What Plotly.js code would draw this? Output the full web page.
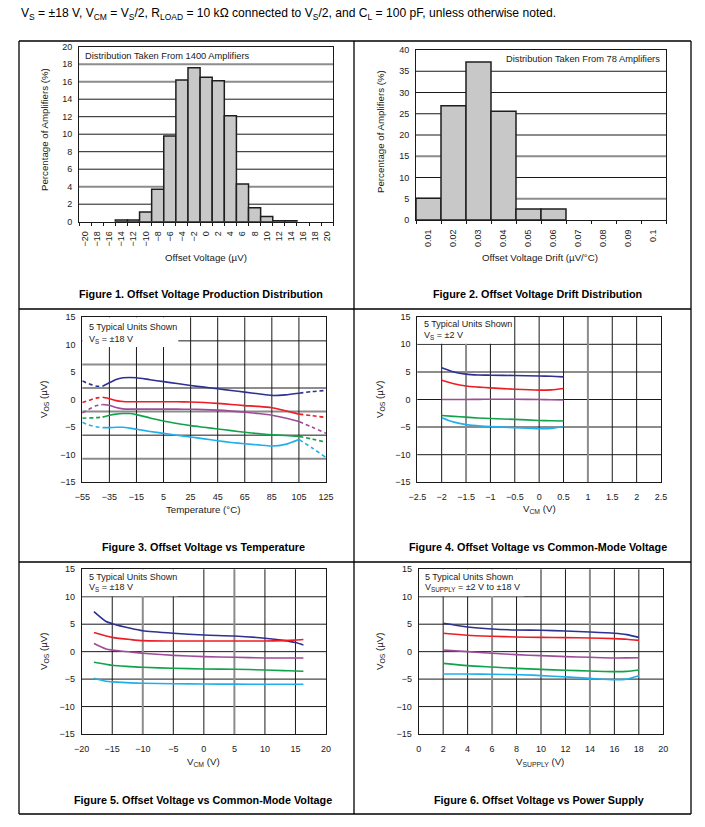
<!DOCTYPE html>
<html><head><meta charset="utf-8">
<script src="https://cdn.plot.ly/plotly-3.0.1.min.js"></script>
<style>html,body{margin:0;padding:0;background:#fff}#chart{width:705px;height:827px}</style>
</head><body><div id="chart"></div>
<script>
// ---------------- DATA ----------------
// Figure 1: offset voltage production distribution (bins of 2 uV, given by left edge)
const offsetBinStarts = [-14,-12,-10,-8,-6,-4,-2,0,2,4,6,8,10,12,14];
const offsetPercent   = [0.2,0.2,1.1,3.7,9.8,16.2,17.6,16.5,16.1,12.1,4.3,1.6,0.6,0.1,0.1];
const offsetTicks     = [-20,-18,-16,-14,-12,-10,-8,-6,-4,-2,0,2,4,6,8,10,12,14,16,18,20];

// Figure 2: offset voltage drift distribution (bins of 0.01 uV/C, left edge)
const driftBinStarts = [0.01,0.02,0.03,0.04,0.05,0.06];
const driftPercent   = [5.13,26.9,37.2,25.6,2.56,2.56];
const driftTicks     = [0.01,0.02,0.03,0.04,0.05,0.06,0.07,0.08,0.09,0.1];
const driftTickText  = ['0.01','0.02','0.03','0.04','0.05','0.06','0.07','0.08','0.09','0.1'];

// Figure 3: Vos vs temperature (5 units)
const temps      = [-55,-50,-45,-40,-35,-30,-25,-20,-15,-5,5,15,25,35,45,55,65,75,85,95,105,115,125];
const tempNavy   = [3.4,2.9,2.5,2.45,3.1,3.7,4.0,4.05,4.0,3.65,3.3,2.95,2.6,2.3,2.0,1.7,1.4,1.1,0.8,0.9,1.2,1.5,1.7];
const tempRed    = [-0.5,-0.1,0.3,0.45,0.2,-0.15,-0.3,-0.35,-0.35,-0.35,-0.35,-0.35,-0.4,-0.5,-0.65,-0.85,-1.05,-1.2,-1.45,-2.0,-2.6,-2.9,-3.2];
const tempPurple = [-2.4,-1.7,-1.1,-0.85,-1.0,-1.4,-1.65,-1.7,-1.7,-1.7,-1.7,-1.7,-1.72,-1.78,-1.88,-2.05,-2.27,-2.5,-2.8,-3.3,-3.95,-5.0,-6.1];
const tempGreen  = [-3.35,-3.3,-3.25,-3.15,-2.8,-2.6,-2.5,-2.5,-2.7,-3.3,-3.85,-4.3,-4.7,-5.0,-5.3,-5.6,-5.9,-6.15,-6.35,-6.5,-6.65,-7.15,-7.7];
const tempCyan   = [-4.1,-4.6,-4.9,-5.05,-5.05,-5.0,-5.0,-5.15,-5.35,-5.75,-6.1,-6.45,-6.75,-7.1,-7.45,-7.75,-8.0,-8.2,-8.4,-8.1,-7.2,-8.8,-10.5];
const tempSolidFrom = -40, tempSolidTo = 105;

// Figure 4: Vos vs Vcm, Vs = +-2 V
const vcm2       = [-2,-1.75,-1.5,-1.25,-1,-0.5,0,0.25,0.5];
const vcm2Navy   = [5.77,5.0,4.6,4.45,4.4,4.35,4.25,4.2,4.1];
const vcm2Red    = [3.47,2.85,2.45,2.25,2.1,1.85,1.7,1.75,2.0];
const vcm2Purple = [0,0,0,0.03,0.05,0.05,0,-0.05,-0.1];
const vcm2Green  = [-2.9,-3.05,-3.2,-3.35,-3.45,-3.6,-3.8,-3.85,-3.9];
const vcm2Cyan   = [-3.3,-4.1,-4.55,-4.75,-4.9,-5.1,-5.3,-5.25,-4.9];

// Figure 5: Vos vs Vcm, Vs = +-18 V
const vcm18       = [-18,-16,-15,-12,-10,-5,0,5,10,13,15,16.3];
const vcm18Navy   = [7.3,5.5,5.1,4.25,3.8,3.34,3.03,2.85,2.45,2.05,1.65,1.2];
const vcm18Red    = [3.5,2.85,2.6,2.2,2.0,1.95,1.95,1.95,1.95,2.0,2.1,2.2];
const vcm18Purple = [1.5,0.5,0.3,-0.06,-0.3,-0.67,-0.9,-1.03,-1.15,-1.15,-1.15,-1.15];
const vcm18Green  = [-1.94,-2.3,-2.49,-2.72,-2.85,-3.03,-3.15,-3.2,-3.34,-3.45,-3.52,-3.58];
const vcm18Cyan   = [-4.85,-5.4,-5.5,-5.68,-5.76,-5.85,-5.9,-5.92,-5.95,-5.95,-5.95,-5.95];

// Figure 6: Vos vs power supply
const vsup       = [2,4,6,8,10,12,14,16,17,18];
const vsupNavy   = [5.16,4.49,4.13,3.95,3.9,3.76,3.58,3.34,3.1,2.6];
const vsupRed    = [3.34,2.98,2.8,2.67,2.6,2.55,2.5,2.37,2.27,2.06];
const vsupPurple = [0.3,0,-0.3,-0.55,-0.73,-0.9,-1.03,-1.15,-1.14,-1.1];
const vsupGreen  = [-2.13,-2.55,-2.8,-3.04,-3.22,-3.4,-3.52,-3.64,-3.6,-3.34];
const vsupCyan   = [-4.07,-4.07,-4.13,-4.19,-4.37,-4.6,-4.86,-5.1,-5.0,-4.37];

// ---------------- STYLE / LAYOUT ----------------
const W = 705, H = 827;
const FONT = 'Liberation Sans, Arial, sans-serif';
const TXT = '#1a1a1a';
const BLACK = '#1a1a1a', GRAY = '#8c8c8c';
const COLORS = {navy:'#2e3192', red:'#ee1c25', purple:'#9e4b98', green:'#11a34b', cyan:'#1fb0ec'};
const px = x => x / W;
const py = y => 1 - y / H;

// plot rectangles in pixels [left, top, right, bottom]
const rects = [
  [79, 46.7, 333.3, 221.7],
  [416, 50, 666, 220],
  [82.3, 317.3, 326, 482.3],
  [417.3, 316.7, 661, 482.3],
  [81.7, 569.3, 326, 734],
  [418.7, 569.3, 663.3, 734]
];
const dom = r => ({x:[px(r[0]), px(r[2])], y:[py(r[3]), py(r[1])]});

const traces = [];
function barTrace(starts, vals, width, n) {
  traces.push({
    type:'bar', x: starts.map(s => s + width/2), y: vals, width: starts.map(() => width),
    marker:{color:'#c8c8c8', line:{color:'#1e1e1e', width:1.5}},
    xaxis:'x'+(n===1?'':n), yaxis:'y'+(n===1?'':n), hoverinfo:'skip'
  });
}
barTrace(offsetBinStarts, offsetPercent, 2, 1);
barTrace(driftBinStarts, driftPercent, 0.01, 2);

function lineTrace(xs, ys, color, n, dash) {
  traces.push({
    type:'scatter', mode:'lines', x:xs, y:ys,
    line:{color:color, width:1.6, shape:'spline', smoothing:0.7, dash: dash || 'solid'},
    xaxis:'x'+n, yaxis:'y'+n, hoverinfo:'skip'
  });
}
// Figure 3 with dashed ends
[[tempNavy,'navy'],[tempRed,'red'],[tempPurple,'purple'],[tempGreen,'green'],[tempCyan,'cyan']].forEach(([ys,c]) => {
  const L = [[],[]], M = [[],[]], R = [[],[]];
  temps.forEach((t,i) => {
    if (t <= tempSolidFrom) { L[0].push(t); L[1].push(ys[i]); }
    if (t >= tempSolidFrom && t <= tempSolidTo) { M[0].push(t); M[1].push(ys[i]); }
    if (t >= tempSolidTo) { R[0].push(t); R[1].push(ys[i]); }
  });
  lineTrace(L[0], L[1], COLORS[c], 3, '4px,3px');
  lineTrace(M[0], M[1], COLORS[c], 3);
  lineTrace(R[0], R[1], COLORS[c], 3, '4px,3px');
});
[[vcm2Navy,'navy'],[vcm2Red,'red'],[vcm2Purple,'purple'],[vcm2Green,'green'],[vcm2Cyan,'cyan']].forEach(([ys,c]) => lineTrace(vcm2, ys, COLORS[c], 4));
[[vcm18Navy,'navy'],[vcm18Red,'red'],[vcm18Purple,'purple'],[vcm18Green,'green'],[vcm18Cyan,'cyan']].forEach(([ys,c]) => lineTrace(vcm18, ys, COLORS[c], 5));
[[vsupNavy,'navy'],[vsupRed,'red'],[vsupPurple,'purple'],[vsupGreen,'green'],[vsupCyan,'cyan']].forEach(([ys,c]) => lineTrace(vsup, ys, COLORS[c], 6));

// axes
const tickfont = {family:FONT, size:9, color:TXT};
function axisBase(extra) {
  return Object.assign({
    showgrid:false, zeroline:false, showline:true, mirror:true, linecolor:BLACK, linewidth:1,
    tickfont:tickfont, fixedrange:true, ticks:''
  }, extra);
}
const layout = {
  width:W, height:H, margin:{l:0,r:0,t:0,b:0}, paper_bgcolor:'#fff', plot_bgcolor:'#fff',
  showlegend:false, hovermode:false, font:{family:FONT, color:TXT},
  shapes:[], annotations:[]
};
const axIds = ['','2','3','4','5','6'];
rects.forEach((r,i) => {
  const d = dom(r);
  layout['xaxis'+axIds[i]] = axisBase({domain:d.x, anchor:'y'+axIds[i]});
  layout['yaxis'+axIds[i]] = axisBase({domain:d.y, anchor:'x'+axIds[i], ticklabelstandoff:4});
});
// histogram axes: labels at bin centres, tick marks at bin edges
Object.assign(layout.xaxis, {range:[-20,22], tickmode:'array', tickvals:offsetTicks.map(v => v + 1),
  ticktext:offsetTicks.map(v => (v < 0 ? '\u2212' + (-v) : String(v))), tickangle:-90, ticklabelstandoff:5,
  minor:{tick0:-20, dtick:2, ticks:'outside', ticklen:3, tickcolor:BLACK, tickwidth:1, showgrid:false}});
Object.assign(layout.yaxis, {range:[0,20], dtick:2, tick0:0});
Object.assign(layout.xaxis2, {range:[0.01,0.11], tickmode:'array', tickvals:driftTicks.map(v => v + 0.005),
  ticktext:driftTickText, tickangle:-90, ticklabelstandoff:5,
  minor:{tick0:0.01, dtick:0.01, ticks:'outside', ticklen:3, tickcolor:BLACK, tickwidth:1, showgrid:false}});
Object.assign(layout.yaxis2, {range:[0,40], dtick:5, tick0:0});
Object.assign(layout.xaxis3, {range:[-55,125], dtick:20, tick0:-55, ticklabelstandoff:6});
Object.assign(layout.xaxis4, {range:[-2.5,2.5], dtick:0.5, tick0:-2.5, ticklabelstandoff:6});
Object.assign(layout.xaxis5, {range:[-20,20], dtick:5, tick0:-20, ticklabelstandoff:6});
Object.assign(layout.xaxis6, {range:[0,20], dtick:2, tick0:0, ticklabelstandoff:6});
['yaxis3','yaxis4','yaxis5','yaxis6'].forEach(k => Object.assign(layout[k], {range:[-15,15], dtick:5, tick0:-15}));

// grid line shapes
function hline(n, v, color, domainRef) {
  const xr = 'x'+n+' domain';
  layout.shapes.push({type:'line', layer:'below', xref:xr, x0:0, x1:1,
    yref: domainRef ? 'y'+n+' domain' : 'y'+n, y0:v, y1:v,
    line:{color:color, width: color===GRAY ? 2 : 1}});
}
function vline(n, v, color) {
  layout.shapes.push({type:'line', layer:'below', yref:'y'+n+' domain', y0:0, y1:1,
    xref:'x'+n, x0:v, x1:v, line:{color:color, width: color===GRAY ? 2 : 1}});
}
function box(n, x0, x1, y0, y1) {
  layout.shapes.push({type:'rect', layer:'below', xref:'x'+n, yref:'y'+n, x0:x0, x1:x1, y0:y0, y1:y1,
    fillcolor:'#fff', line:{width:0}});
}
// Fig 1
[[2,BLACK],[4,GRAY],[6,BLACK],[8,BLACK],[10,BLACK],[12,BLACK],[14,BLACK],[16,GRAY],[18,GRAY]].forEach(([v,c]) => hline('',v,c));
// Fig 2
[[5,GRAY],[10,BLACK],[15,GRAY],[20,GRAY],[25,BLACK],[30,BLACK],[35,BLACK]].forEach(([v,c]) => hline('2',v,c));
// Fig 3 (7 horizontal bands)
[1,2,3,4,5,6].forEach(k => hline('3', k/7, k%2===1 ? GRAY : BLACK, true));
[-35,-15,5,25,45,65,85,105].forEach(v => vline('3', v, BLACK));
box('3', -55, 15.9, 9.6, 15);
// Fig 4
[[10,BLACK],[5,GRAY],[0,BLACK],[-5,GRAY],[-10,BLACK]].forEach(([v,c]) => hline('4',v,c));
[[-2,BLACK],[-1.5,GRAY],[-1,BLACK],[-0.5,BLACK],[0,BLACK],[0.5,BLACK],[1,GRAY],[1.5,BLACK],[2,BLACK]].forEach(([v,c]) => vline('4',v,c));
box('4', -2.5, -0.53, 10.1, 15);
// Fig 5
[10,5,0,-5,-10].forEach(v => hline('5', v, BLACK));
[[-15,BLACK],[-10,GRAY],[-5,BLACK],[0,BLACK],[5,GRAY],[10,BLACK],[15,BLACK]].forEach(([v,c]) => vline('5',v,c));
box('5', -20, -4.3, 10.1, 15);
// Fig 6
[10,5,0,-5,-10].forEach(v => hline('6', v, BLACK));
[[2,BLACK],[4,BLACK],[6,GRAY],[8,BLACK],[10,BLACK],[12,BLACK],[14,GRAY],[16,BLACK],[18,BLACK]].forEach(([v,c]) => vline('6',v,c));
box('6', 0, 8.6, 10.1, 15);

// table frame
const frame = (x0,y0,x1,y1) => layout.shapes.push({type:'line', xref:'paper', yref:'paper',
  x0:px(x0), y0:py(y0), x1:px(x1), y1:py(y1), line:{color:'#000', width:1.3}});
frame(19,41,691,41); frame(19,814,691,814); frame(19,41,19,814); frame(691,41,691,814);
frame(354,41,354,814); frame(19,309,691,309); frame(19,562,691,562);

// text
function txt(text, x, y, opts) {
  layout.annotations.push(Object.assign({text:text, xref:'paper', yref:'paper', x:px(x), y:py(y),
    showarrow:false, xanchor:'center', yanchor:'middle', font:{family:FONT, size:9.7, color:TXT}}, opts||{}));
}
txt('V<sub>S</sub> = ±18 V, V<sub>CM</sub> = V<sub>S</sub>/2, R<sub>LOAD</sub> = 10 kΩ connected to V<sub>S</sub>/2, and C<sub>L</sub> = 100 pF, unless otherwise noted.',
  19, 14, {xanchor:'left', font:{family:FONT, size:12.1, color:'#000'}});
const cap = {font:{family:FONT, size:10.8, color:'#000'}};
txt('<b>Figure 1. Offset Voltage Production Distribution</b>', 201, 294, cap);
txt('<b>Figure 2. Offset Voltage Drift Distribution</b>', 537, 294, cap);
txt('<b>Figure 3. Offset Voltage vs Temperature</b>', 203, 547, cap);
txt('<b>Figure 4. Offset Voltage vs Common-Mode Voltage</b>', 538, 547, cap);
txt('<b>Figure 5. Offset Voltage vs Common-Mode Voltage</b>', 203, 800, cap);
txt('<b>Figure 6. Offset Voltage vs Power Supply</b>', 539, 800, cap);

// axis titles
const rot = {textangle:-90};
txt('Percentage of Amplifiers (%)', 44, 130, rot);
txt('Offset Voltage (µV)', 206, 257);
txt('Percentage of Amplifiers (%)', 380, 132, rot);
txt('Offset Voltage Drift (µV/°C)', 540, 258);
txt('V<sub>OS</sub> (µV)', 44, 400, rot);
txt('Temperature (°C)', 203, 510);
txt('V<sub>OS</sub> (µV)', 380, 400, rot);
txt('V<sub>CM</sub> (V)', 539, 509);
txt('V<sub>OS</sub> (µV)', 44, 652, rot);
txt('V<sub>CM</sub> (V)', 203, 762);
txt('V<sub>OS</sub> (µV)', 380, 652, rot);
txt('V<sub>SUPPLY</sub> (V)', 540, 762);

// in-plot notes
const note = {xanchor:'left', font:{family:FONT, size:9.3, color:TXT}};
const unitNote = {xanchor:'left', font:{family:FONT, size:9.0, color:TXT}};
txt('Distribution Taken From 1400 Amplifiers', 83.3, 55.7, note);
txt('Distribution Taken From 78 Amplifiers', 661.7, 59, Object.assign({}, note, {xanchor:'right'}));
txt('5 Typical Units Shown', 87.2, 326.7, unitNote);
txt('V<sub>S</sub> = ±18 V', 87.2, 339, unitNote);
txt('5 Typical Units Shown', 421.5, 324.3, unitNote);
txt('V<sub>S</sub> = ±2 V', 421.5, 335.5, unitNote);
txt('5 Typical Units Shown', 87.2, 576.7, unitNote);
txt('V<sub>S</sub> = ±18 V', 87.2, 587.8, unitNote);
txt('5 Typical Units Shown', 423, 576.7, unitNote);
txt('V<sub>SUPPLY</sub> = ±2 V to ±18 V', 423, 587.8, unitNote);

Plotly.newPlot('chart', traces, layout, {staticPlot:true, displayModeBar:false});
</script></body></html>
